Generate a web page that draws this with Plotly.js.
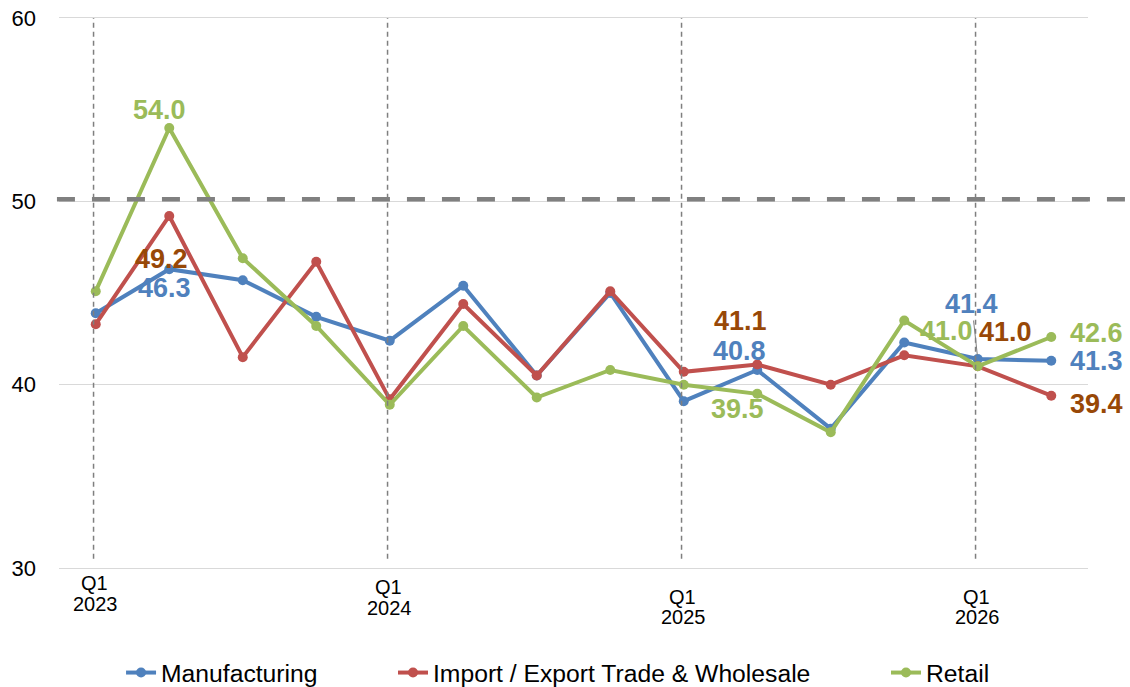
<!DOCTYPE html>
<html>
<head>
<meta charset="utf-8">
<script src="https://cdn.plot.ly/plotly-3.0.1.min.js"></script>
<style>
  html, body { margin: 0; padding: 0; background: #ffffff; }
  #chart { width: 1130px; height: 687px; }
</style>
</head>
<body>
<div id="chart"></div>
<script>
// ---- Data ----
var quarters = ['Q1 2023','Q2 2023','Q3 2023','Q4 2023','Q1 2024','Q2 2024','Q3 2024','Q4 2024',
                'Q1 2025','Q2 2025','Q3 2025','Q4 2025','Q1 2026','Q2 2026'];
var manufacturing = [43.9, 46.3, 45.7, 43.7, 42.4, 45.4, 40.5, 45.0, 39.1, 40.8, 37.6, 42.3, 41.4, 41.3];
var importExport  = [43.3, 49.2, 41.5, 46.7, 39.2, 44.4, 40.5, 45.1, 40.7, 41.1, 40.0, 41.6, 41.0, 39.4];
var retail        = [45.1, 54.0, 46.9, 43.2, 38.9, 43.2, 39.3, 40.8, 40.0, 39.5, 37.4, 43.5, 41.0, 42.6];
var seriesNames = ['Manufacturing', 'Import / Export Trade & Wholesale', 'Retail'];
var yTickVals = [30, 40, 50, 60];
var threshold = 50;
var yearTickQuarter = ['Q1', 'Q1', 'Q1', 'Q1'];
var yearTickYear = ['2023', '2024', '2025', '2026'];
var yearTickIndex = [0, 4, 8, 12];

// ---- Styles ----
var FONT = 'Liberation Sans, Arial, sans-serif';
var colors = ['#4F81BD', '#C0504D', '#9BBB59'];
var labelColors = ['#4F81BD', '#984807', '#9BBB59'];
var seriesData = [manufacturing, importExport, retail];

var traces = seriesData.map(function (vals, k) {
  return {
    type: 'scatter', mode: 'lines+markers',
    x: quarters, y: vals, name: seriesNames[k],
    line: { color: colors[k], width: 4 },
    marker: { color: colors[k], size: 10 },
    legend: k === 0 ? 'legend' : ('legend' + (k + 1)),
    hoverinfo: 'skip'
  };
});

// data labels: [series, index, xshift, yshift]
var labelSpecs = [
  [2, 1, -10, 18],
  [1, 1, -8, -43],
  [0, 1, -5, -19],
  [1, 9, -17, 44],
  [0, 9, -18, 19],
  [2, 9, -20, -15],
  [2, 12, -31, 35],
  [1, 12, 28, 34],
  [2, 13, 45, 4],
  [0, 13, 45, 0],
  [1, 13, 45, -8]
];

var annotations = labelSpecs.map(function (s) {
  return {
    x: quarters[s[1]], y: seriesData[s[0]][s[1]],
    xref: 'x', yref: 'y',
    text: seriesData[s[0]][s[1]].toFixed(1),
    showarrow: false, xshift: s[2], yshift: s[3],
    font: { family: FONT, size: 27, color: labelColors[s[0]], weight: 'bold' }
  };
});
// label with leader line
annotations.push({
  x: quarters[12], y: manufacturing[12], xref: 'x', yref: 'y',
  text: manufacturing[12].toFixed(1),
  showarrow: true, arrowhead: 0, arrowwidth: 1, arrowcolor: '#7F7F7F',
  ax: -6, ay: -55, standoff: 4,
  font: { family: FONT, size: 27, color: labelColors[0], weight: 'bold' }
});

// year ticks (quarter line and year line as separate texts), paper coords
var PLOT_TOP = 18, PLOT_BOTTOM = 568;
function pxToPaper(py) { return (PLOT_BOTTOM - py) / (PLOT_BOTTOM - PLOT_TOP); }
var tickQY = [583, 587, 597, 597];
var tickYY = [604, 608, 617, 617];
yearTickIndex.forEach(function (idx, j) {
  annotations.push({
    x: idx, y: pxToPaper(tickQY[j]), xref: 'x', yref: 'paper',
    xanchor: 'center', yanchor: 'middle', showarrow: false, xshift: -1,
    text: yearTickQuarter[j],
    font: { family: FONT, size: 20, color: '#000000' }
  });
  annotations.push({
    x: idx, y: pxToPaper(tickYY[j]), xref: 'x', yref: 'paper',
    xanchor: 'center', yanchor: 'middle', showarrow: false, xshift: 0,
    text: yearTickYear[j],
    font: { family: FONT, size: 20, color: '#000000' }
  });
});

var shapes = [];
yearTickIndex.forEach(function (idx) {
  shapes.push({
    type: 'line', xref: 'x', yref: 'y',
    x0: idx - 0.03, x1: idx - 0.03, y0: 30.5, y1: 60,
    line: { color: '#7F7F7F', width: 1.5, dash: '5px,4px' }
  });
});
shapes.push({
  type: 'line', xref: 'paper', yref: 'y',
  x0: -0.002, x1: 1.06, y0: threshold + 0.12, y1: threshold + 0.12,
  line: { color: '#808080', width: 4.5, dash: '18px,17px' }
});

var legendBase = {
  orientation: 'h', yanchor: 'middle', xanchor: 'left',
  yref: 'container', y: 1 - 673 / 687,
  bgcolor: 'rgba(0,0,0,0)', borderwidth: 0,
  font: { family: FONT, size: 24.7, color: '#000000' }
};
function mkLegend(x) { var o = JSON.parse(JSON.stringify(legendBase)); o.x = x; return o; }

var layout = {
  width: 1130, height: 687,
  margin: { l: 59, r: 42, t: 18, b: 119, autoexpand: false },
  paper_bgcolor: '#ffffff', plot_bgcolor: '#ffffff',
  font: { family: FONT, color: '#000000' },
  showlegend: true,
  legend: mkLegend(0.0603),
  legend2: mkLegend(0.3246),
  legend3: mkLegend(0.8037),
  xaxis: {
    type: 'category', categoryorder: 'array', categoryarray: quarters,
    range: [-0.5, 13.5], showticklabels: false, showgrid: false,
    zeroline: false, showline: true, mirror: true,
    linecolor: '#D9D9D9', linewidth: 1.2, ticks: ''
  },
  yaxis: {
    range: [30, 60], tickvals: yTickVals, showgrid: true,
    gridcolor: '#D9D9D9', gridwidth: 1.2, zeroline: false, showline: false,
    ticks: '', ticklabelstandoff: 22,
    tickfont: { family: FONT, size: 22, color: '#000000' }
  },
  annotations: annotations,
  shapes: shapes
};

Plotly.newPlot('chart', traces, layout, { displayModeBar: false, staticPlot: true });
</script>
</body>
</html>
